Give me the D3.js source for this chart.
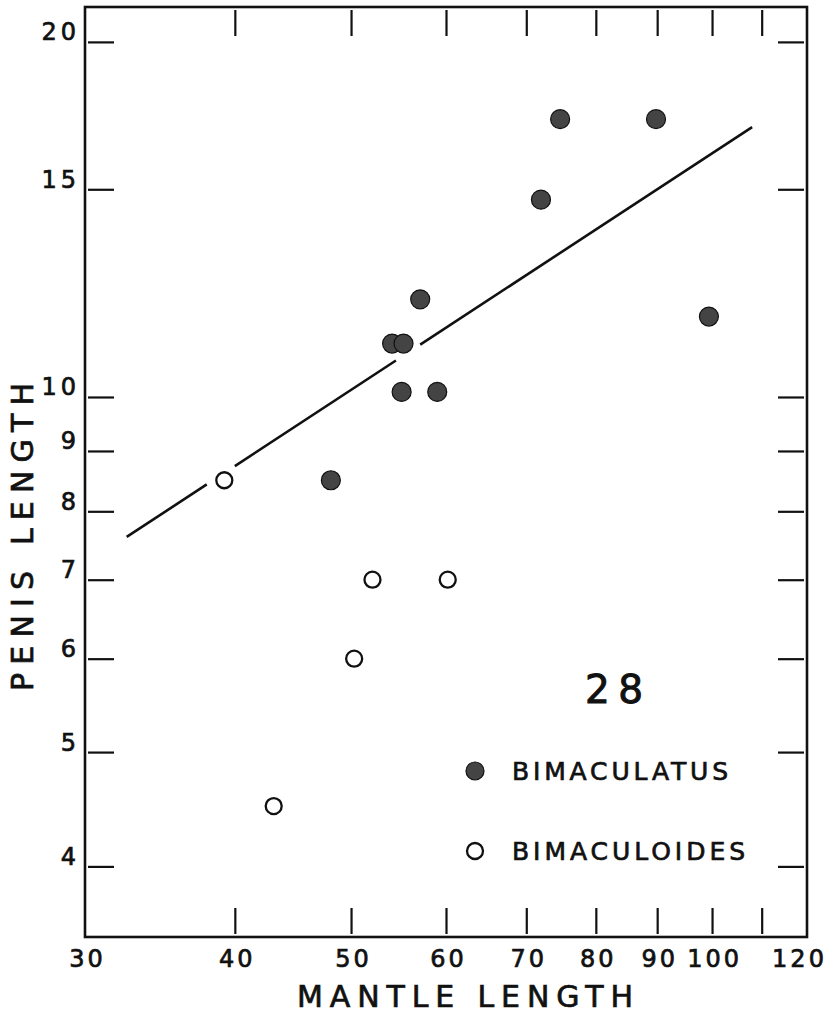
<!DOCTYPE html>
<html>
<head>
<meta charset="utf-8">
<script src="https://cdn.jsdelivr.net/npm/d3@7"></script>
<style>
  html, body { margin: 0; padding: 0; background: #fff; }
  svg { display: block; }
  text { font-family: "DejaVu Sans", "Liberation Sans", sans-serif; fill: #111; stroke: #111; stroke-width: 0.7px; }
</style>
</head>
<body>
<svg id="chart" width="837" height="1013"></svg>
<script>
// Mantle length vs. penis length (log-log), Octopus bimaculatus / bimaculoides
const bimaculatusMantle = [74.7, 89.8, 72.0, 99.4, 57.1, 54.1, 55.3, 55.1, 59.0, 48.1];
const bimaculatusPenis  = [17.2, 17.2, 14.7, 11.7, 12.1, 11.1, 11.1, 10.1, 10.1, 8.5];
const bimaculoidesMantle = [39.2, 52.1, 60.2, 50.3, 43.1];
const bimaculoidesPenis  = [8.5, 7.0, 7.0, 6.0, 4.5];

// Fitted power line: penis = fitA * mantle ^ fitB, drawn in pieces that leave gaps around nearby points
const fitA = 0.749;
const fitB = 0.666;
const fitSegments = [[32.5, 37.9], [40.0, 54.5], [57.1, 108]];

const xTickValues = [40, 50, 60, 70, 80, 90, 100, 110];
const xLabelValues = [30, 40, 50, 60, 70, 80, 90, 100, 120];
const yTickValues = [4, 5, 6, 7, 8, 9, 10, 15, 20];

const legendItems = ["BIMACULATUS", "BIMACULOIDES"];
const figureNumber = "28";

(function () {
  const svg = d3.select("#chart");
  const plotL = 85, plotR = 807, plotT = 7, plotB = 937;

  const x = d3.scaleLog().domain([30, 120]).range([plotL, plotR]);
  const y = d3.scaleLog().domain([3.485, 21.41]).range([plotB, plotT]);

  const tickLen = 26, tickGap = 3;

  function styleTicks(g) {
    g.select(".domain").remove();
    g.selectAll(".tick line").attr("stroke", "#111").attr("stroke-width", 2.2);
  }

  // inward tick marks on all four sides
  svg.append("g").attr("transform", `translate(0,${plotB - tickGap})`)
    .call(d3.axisBottom(x).tickValues(xTickValues).tickFormat("").tickSizeInner(-tickLen).tickSizeOuter(0))
    .call(styleTicks);
  svg.append("g").attr("transform", `translate(0,${plotT + tickGap})`)
    .call(d3.axisTop(x).tickValues(xTickValues).tickFormat("").tickSizeInner(-tickLen).tickSizeOuter(0))
    .call(styleTicks);
  svg.append("g").attr("transform", `translate(${plotL + tickGap},0)`)
    .call(d3.axisLeft(y).tickValues(yTickValues).tickFormat("").tickSizeInner(-tickLen).tickSizeOuter(0))
    .call(styleTicks);
  svg.append("g").attr("transform", `translate(${plotR - tickGap},0)`)
    .call(d3.axisRight(y).tickValues(yTickValues).tickFormat("").tickSizeInner(-tickLen).tickSizeOuter(0))
    .call(styleTicks);

  // tick labels
  const xLab = svg.append("g").attr("transform", `translate(0,${plotB})`)
    .call(d3.axisBottom(x).tickValues(xLabelValues).tickFormat(d3.format("d")).tickSize(0).tickPadding(13));
  xLab.select(".domain").remove();
  xLab.selectAll("text").style("font-size", "24px").style("letter-spacing", "3px")
    .attr("fill", "#111").attr("dx", d => d === 120 ? "-8px" : "2px");

  const yLab = svg.append("g").attr("transform", `translate(${plotL},0)`)
    .call(d3.axisLeft(y).tickValues(yTickValues).tickFormat(d3.format("d")).tickSize(0).tickPadding(5));
  yLab.select(".domain").remove();
  yLab.selectAll("text").style("font-size", "24px").style("letter-spacing", "4px")
    .attr("fill", "#111").attr("dy", "-2px");

  // frame
  svg.append("rect")
    .attr("x", plotL).attr("y", plotT)
    .attr("width", plotR - plotL).attr("height", plotB - plotT)
    .attr("fill", "none").attr("stroke", "#111").attr("stroke-width", 2.6);

  // fitted line
  const fitLine = d3.line().x(d => x(d)).y(d => y(fitA * Math.pow(d, fitB)));
  svg.append("g").selectAll("path").data(fitSegments).join("path")
    .attr("d", s => fitLine(s))
    .attr("fill", "none").attr("stroke", "#111").attr("stroke-width", 2.6);

  // points
  const filled = bimaculatusMantle.map((m, i) => ({ m, p: bimaculatusPenis[i] }));
  const open = bimaculoidesMantle.map((m, i) => ({ m, p: bimaculoidesPenis[i] }));

  svg.append("g").selectAll("circle").data(filled).join("circle")
    .attr("cx", d => x(d.m)).attr("cy", d => y(d.p)).attr("r", 9.5)
    .attr("fill", "#444").attr("stroke", "#111").attr("stroke-width", 1.2);

  svg.append("g").selectAll("circle").data(open).join("circle")
    .attr("cx", d => x(d.m)).attr("cy", d => y(d.p)).attr("r", 8)
    .attr("fill", "#fff").attr("stroke", "#111").attr("stroke-width", 2.3);

  // axis titles
  svg.append("text")
    .attr("x", 297).attr("y", 1007)
    .attr("textLength", 336).attr("lengthAdjust", "spacing")
    .style("font-size", "30px")
    .text("MANTLE LENGTH");

  svg.append("text")
    .attr("transform", "translate(33,691) rotate(-90)")
    .attr("x", 0).attr("y", 0)
    .attr("textLength", 308).attr("lengthAdjust", "spacing")
    .style("font-size", "30px")
    .text("PENIS LENGTH");

  // figure number
  svg.append("text")
    .attr("x", 585).attr("y", 703)
    .attr("textLength", 58).attr("lengthAdjust", "spacing")
    .style("font-size", "39px").style("stroke-width", "1px")
    .text(figureNumber);

  // legend
  const legend = svg.append("g");
  legend.append("circle").attr("cx", 475).attr("cy", 771).attr("r", 9)
    .attr("fill", "#444").attr("stroke", "#111").attr("stroke-width", 1.2);
  legend.append("circle").attr("cx", 475).attr("cy", 851).attr("r", 8)
    .attr("fill", "#fff").attr("stroke", "#111").attr("stroke-width", 2.3);
  legend.selectAll("text").data(legendItems).join("text")
    .attr("x", 512).attr("y", (d, i) => i === 0 ? 780 : 860)
    .attr("textLength", (d, i) => i === 0 ? 216 : 233).attr("lengthAdjust", "spacing")
    .style("font-size", "25px")
    .text(d => d);
})();
</script>
</body>
</html>
